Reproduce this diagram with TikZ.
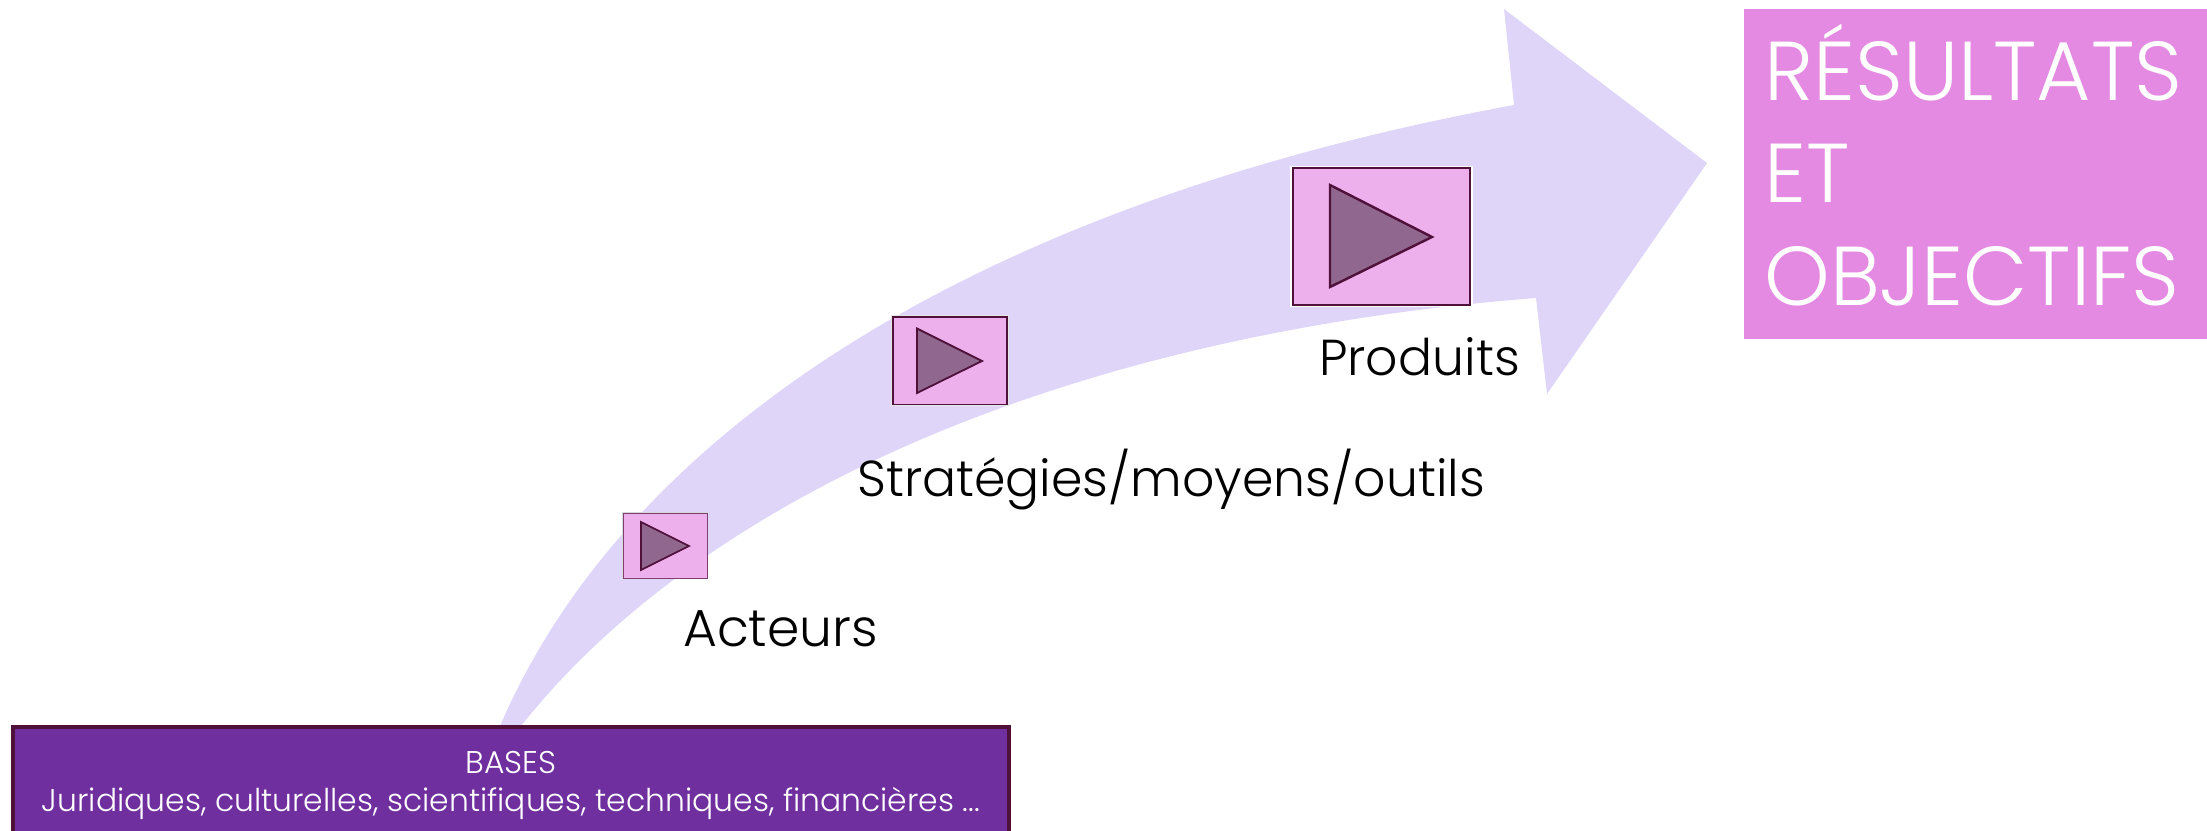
\documentclass[tikz,border=0pt]{standalone}
\usepackage{fontspec}
\setmainfont{Poppins Light}
\definecolor{arrowfill}{HTML}{DFD5F9}
\definecolor{resfill}{HTML}{E48AE2}
\definecolor{pinkfill}{HTML}{EEB0EC}
\definecolor{trifill}{HTML}{90688F}
\definecolor{darkline}{HTML}{4F1039}
\definecolor{basefill}{HTML}{702F9E}
\tikzset{
  labeltext/.style={anchor=base west,inner sep=0pt,text=black},
  resulttext/.style={anchor=base west,inner sep=0pt,text=white,font=\fontsize{83.5}{84}\selectfont},
  basetext/.style={anchor=base,inner sep=0pt,text=white,font=\fontsize{31.4}{32}\selectfont},
  playbox/.style={fill=pinkfill,draw=darkline,outer sep=0pt,inner sep=0pt},
  playtri/.style={fill=trifill,draw=darkline,line join=miter},
}
\begin{document}
\begin{tikzpicture}[x=1pt,y=-1pt]
\useasboundingbox (0,0) rectangle (2207,830);
% sweeping arrow
\fill[arrowfill] (500,726) .. controls (625,435) and (970,205) .. (1514,105)
  -- (1504,9) -- (1707,163) -- (1547,394) -- (1536,298)
  .. controls (1060,335) and (700,500) .. (521,726) -- cycle;
% result box
\fill[resfill] (1744,9) rectangle (2207,339);
\node[resulttext] (r1) at (1764,100) {RÉSULTATS};
\node[resulttext] (r2) at (1764,202) {ET};
\node[resulttext] (r3) at (1764,305) {OBJECTIFS};
% small play
\fill[white!85!black] (622,512) rectangle (708,579);
\draw[playbox,line width=1pt,draw=darkline!70!pinkfill] (623.5,513.5) rectangle (707,578);
\draw[playtri,line width=1.6pt] (641,522) -- (689,546) -- (641,570) -- cycle;
% medium play
\fill[white!90!black] (891,315) rectangle (1009,406);
\draw[playbox,line width=1.6pt] (893,317) rectangle (1007,404.5);
\draw[playtri,line width=1.8pt] (917,328.5) -- (982,361) -- (917,393) -- cycle;
% big play
\fill[white] (1290,166) rectangle (1473,307);
\draw[playbox,line width=2.4pt] (1293,168) rectangle (1470,305);
\draw[playtri,line width=2.4pt] (1330,185) -- (1432,237) -- (1330,287) -- cycle;
% labels
\node[labeltext,font=\fontsize{50.5}{51}\selectfont] (l1) at (1319,375) {Produits};
\node[labeltext,font=\fontsize{50.5}{51}\selectfont] (l2) at (857,496) {Stratégies/moyens/outils};
\node[labeltext,font=\fontsize{52}{52}\selectfont] (l3) at (683,646) {Acteurs};
% bases
\fill[basefill,draw=darkline,line width=3.5pt] (13,727) rectangle (1009,840);
\node[basetext] (b1) at (511,773) {BASES};
\node[basetext] (b2) at (511,811) {Juridiques, culturelles, scientifiques, techniques, financières ...};
\end{tikzpicture}
\end{document}
